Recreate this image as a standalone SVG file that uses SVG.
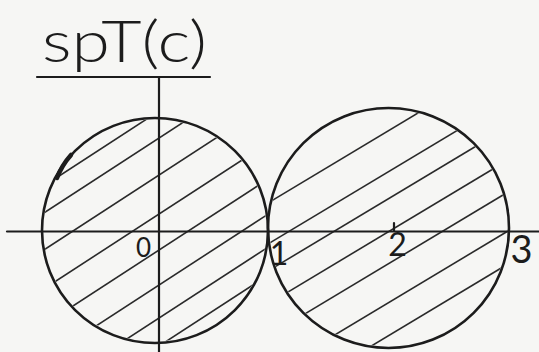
<svg xmlns="http://www.w3.org/2000/svg" width="539" height="352" viewBox="0 0 539 352">
<style>
.ink{stroke:#1c1c1c;fill:none;stroke-linecap:round;stroke-linejoin:round}
.rim{stroke-width:2.6}
.axis{stroke-width:2.2}
.hatch{stroke:#2a2a2a;stroke-width:1.6;fill:none}
.lbl{font-family:"Lato","Open Sans","Liberation Sans",sans-serif;font-weight:300;fill:#1c1c1c}
.num{font-weight:400}
</style>
<defs>
<clipPath id="clipL"><ellipse cx="155" cy="230.5" rx="111.5" ry="111"/></clipPath>
<clipPath id="clipR"><ellipse cx="388.5" cy="228" rx="119" ry="118.5"/></clipPath>
</defs>
<rect x="0" y="0" width="539" height="352" fill="#f6f6f4"/>
<g id="title">
<text class="lbl" x="42" y="62" font-size="58" textLength="165" lengthAdjust="spacingAndGlyphs">spT(c)</text>
<line class="ink axis" x1="37" y1="77" x2="210" y2="77"/>
</g>
<g id="circle-left">
<g clip-path="url(#clipL)" class="hatch">
<line x1="30" y1="194.9" x2="280" y2="32.4"/>
<line x1="30" y1="221.9" x2="280" y2="59.4"/>
<line x1="30" y1="258.9" x2="280" y2="96.4"/>
<line x1="30" y1="297.9" x2="280" y2="135.4"/>
<line x1="30" y1="333.9" x2="280" y2="171.4"/>
<line x1="30" y1="368.9" x2="280" y2="206.4"/>
<line x1="30" y1="401.9" x2="280" y2="239.4"/>
<line x1="30" y1="429.9" x2="280" y2="267.4"/>
</g>
<ellipse class="ink rim" cx="155" cy="230.5" rx="113" ry="112.5"/>
<path class="ink" stroke-width="4.5" d="M57 178 Q62 165 71 155"/>
</g>
<g id="circle-right">
<g clip-path="url(#clipR)" class="hatch">
<line x1="260" y1="207.8" x2="520" y2="51.8"/>
<line x1="260" y1="248.8" x2="520" y2="92.8"/>
<line x1="260" y1="275.8" x2="520" y2="119.8"/>
<line x1="260" y1="308.8" x2="520" y2="152.8"/>
<line x1="260" y1="340.8" x2="520" y2="184.8"/>
<line x1="260" y1="379.8" x2="520" y2="223.8"/>
<line x1="260" y1="412.8" x2="520" y2="256.8"/>
</g>
<ellipse class="ink rim" cx="388.5" cy="228" rx="120.5" ry="120"/>
</g>
<g id="connectors">
<line class="ink axis" x1="7" y1="231.5" x2="539" y2="231.5"/>
<line class="ink axis" x1="159" y1="77" x2="159" y2="352"/>
<line class="ink axis" x1="394" y1="223" x2="394" y2="231"/>
</g>
<g id="labels">
<text class="lbl num" x="143.5" y="257" font-size="26" text-anchor="middle">0</text>
<text class="lbl num" x="279" y="265" font-size="32" text-anchor="middle">1</text>
<text class="lbl num" x="397.5" y="256" font-size="32" text-anchor="middle">2</text>
<text class="lbl num" x="521.5" y="263" font-size="38" text-anchor="middle">3</text>
</g>
</svg>
